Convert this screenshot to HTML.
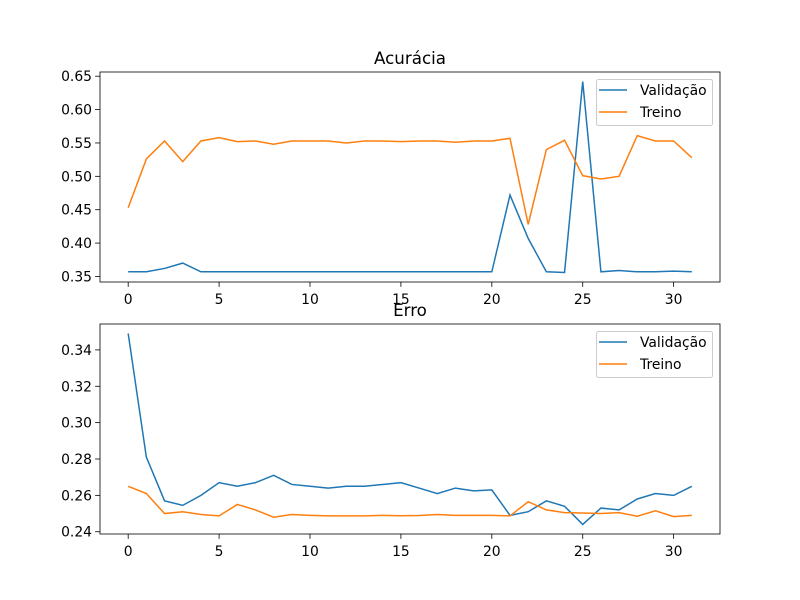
<!DOCTYPE html>
<html><head><meta charset="utf-8"><style>
body{margin:0;background:#fff}
svg{display:block;font-family:"DejaVu Sans","Liberation Sans",sans-serif}
</style></head><body>
<svg id="fig" width="800" height="600" viewBox="0 0 800 600"></svg>
<script>
const epochs = Array.from({length:32},(_,i)=>i);
const accVal = [0.357,0.357,0.362,0.370,0.357,0.357,0.357,0.357,0.357,0.357,0.357,0.357,0.357,0.357,0.357,0.357,0.357,0.357,0.357,0.357,0.357,0.472,0.407,0.357,0.356,0.642,0.357,0.359,0.357,0.357,0.358,0.357];
const accTrain = [0.453,0.526,0.553,0.522,0.553,0.558,0.552,0.553,0.548,0.553,0.553,0.553,0.550,0.553,0.553,0.552,0.553,0.553,0.551,0.553,0.553,0.557,0.428,0.540,0.554,0.501,0.496,0.500,0.561,0.553,0.553,0.528];
const errVal = [0.349,0.281,0.257,0.2545,0.260,0.267,0.265,0.267,0.271,0.266,0.265,0.264,0.265,0.265,0.266,0.267,0.264,0.261,0.264,0.2625,0.263,0.249,0.251,0.257,0.254,0.244,0.253,0.252,0.258,0.261,0.260,0.265];
const errTrain = [0.265,0.261,0.250,0.251,0.2495,0.2487,0.255,0.252,0.248,0.2495,0.249,0.2487,0.2487,0.2487,0.249,0.2488,0.2489,0.2495,0.249,0.249,0.249,0.2487,0.2565,0.252,0.2505,0.2503,0.250,0.2505,0.2485,0.2515,0.2483,0.249];
const xTicks = [0,5,10,15,20,25,30];
const accTicks = [0.35,0.40,0.45,0.50,0.55,0.60,0.65];
const errTicks = [0.24,0.26,0.28,0.30,0.32,0.34];
const seriesNames = ["Validação","Treino"];
const colors = ["#1f77b4","#ff7f0e"];
const NS="http://www.w3.org/2000/svg";
const svg=document.getElementById('fig');
function mk(t,a,p){const e=document.createElementNS(NS,t);for(const k in a)e.setAttribute(k,a[k]);(p||svg).appendChild(e);return e;}
function panel(top,title,series,ticks,dec,name){
  const L=100,R=720,T=top,B=top+210;
  const g=mk('g',{});
  
  
  const all=series.flat();const mn=Math.min(...all),mx=Math.max(...all),m=(mx-mn)*0.05;
  const y0=mn-m,y1=mx+m;const xm=31*0.05;
  const sx=v=>L+(v+xm)/(31+2*xm)*(R-L);
  const sy=v=>B-(v-y0)/(y1-y0)*(B-T);
  series.forEach((s,i)=>{
    const p=mk('polyline',{points:s.map((v,j)=>sx(epochs[j])+','+sy(v)).join(' '),fill:'none',stroke:colors[i],'stroke-width':1.5},g);
    
    
  });
  const fr=mk('rect',{x:L,y:T,width:R-L,height:B-T,fill:'none',stroke:'#000','stroke-width':0.8},g);
  
  
  xTicks.forEach(t=>{const x=sx(t);mk('line',{x1:x,x2:x,y1:B,y2:B+4.9,stroke:'#000','stroke-width':0.8},g);
    const tx=mk('text',{x:x,y:B+22,'font-size':13.9,'text-anchor':'middle'},g);tx.textContent=t;
    
    });
  ticks.forEach(t=>{const y=sy(t);mk('line',{x1:L-4.9,x2:L,y1:y,y2:y,stroke:'#000','stroke-width':0.8},g);
    const tx=mk('text',{x:L-8,y:y+5,'font-size':13.9,'text-anchor':'end'},g);tx.textContent=t.toFixed(dec);
    
    });
  const ti=mk('text',{x:(L+R)/2,y:T-8,'font-size':16.7,'text-anchor':'middle'},g);ti.textContent=title;
  
  
  const lg=mk('g',{},g);
  
  
  mk('rect',{x:596.5,y:T+7.5,width:116,height:46,rx:2,fill:'#fff','fill-opacity':0.8,stroke:'#ccc'},lg);
  seriesNames.forEach((n,i)=>{const y=T+18+i*22;
    mk('line',{x1:599,x2:627,y1:y,y2:y,stroke:colors[i],'stroke-width':1.5},lg);
    const tx=mk('text',{x:640,y:y+5,'font-size':13.9},lg);tx.textContent=n;
    
    });
}
panel(72,"Acurácia",[accVal,accTrain],accTicks,2,'acuracia');
panel(324,"Erro",[errVal,errTrain],errTicks,2,'erro');
</script>
</body></html>
